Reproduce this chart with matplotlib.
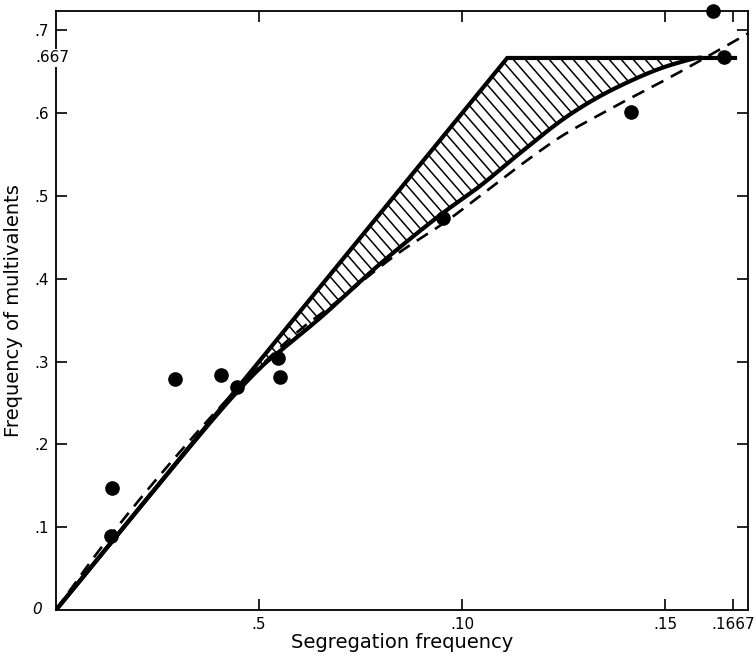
import numpy as np
import matplotlib
matplotlib.use("Agg")
import matplotlib.pyplot as plt
from matplotlib.patches import Polygon

# ---- data ----
obs_x = [0.0137, 0.01355, 0.0293, 0.0406, 0.0445, 0.0546, 0.0552, 0.0952, 0.1415, 0.1617, 0.1644]
obs_y = [0.1477, 0.0897, 0.2786, 0.2840, 0.2697, 0.3047, 0.2818, 0.4730, 0.6020, 0.7234, 0.6680]

upper_x = [0.0, 1/9, 0.1672]
upper_y = [0.0, 2/3, 2/3]

lower_x = [0.0, 0.02, 0.04, 0.05, 0.056, 0.0658, 0.0798, 0.0938, 0.1044, 0.1143,
           0.1241, 0.1323, 0.1406, 0.1488, 0.1562, 0.1585]
lower_y = [0.0, 0.120, 0.238, 0.291, 0.316, 0.356, 0.418, 0.474, 0.512, 0.552,
           0.590, 0.616, 0.637, 0.654, 0.665, 0.667]

dash_x = [0.0, 0.01, 0.02, 0.03, 0.04, 0.05, 0.06, 0.0675, 0.0831, 0.0954, 0.1044, 0.1143,
          0.1241, 0.1323, 0.1406, 0.1488, 0.157, 0.1705]
dash_y = [0.0, 0.068, 0.130, 0.188, 0.243, 0.293, 0.338, 0.366, 0.4267, 0.467, 0.500, 0.537,
          0.571, 0.594, 0.616, 0.637, 0.659, 0.6965]

xtick_vals = [0.05, 0.10, 0.15, 0.1667]
xtick_labels = [".5", ".10", ".15", ".1667"]
ytick_vals = [0.1, 0.2, 0.3, 0.4, 0.5, 0.6, 0.7]
ytick_labels = [".1", ".2", ".3", ".4", ".5", ".6", ".7"]


def smooth(xs, ys, n=20):
    """Catmull-Rom rendering of a hand-read curve (drawing only)."""
    p = np.column_stack([xs, ys]).astype(float)
    p = np.vstack([2 * p[0] - p[1], p, 2 * p[-1] - p[-2]])
    out = []
    t = np.linspace(0, 1, n, endpoint=False)[:, None]
    for i in range(1, len(p) - 2):
        p0, p1, p2, p3 = p[i - 1], p[i], p[i + 1], p[i + 2]
        seg = 0.5 * ((2 * p1) + (-p0 + p2) * t + (2 * p0 - 5 * p1 + 4 * p2 - p3) * t ** 2
                     + (-p0 + 3 * p1 - 3 * p2 + p3) * t ** 3)
        out.append(seg)
    out.append(p[-2][None, :])
    out = np.vstack(out)
    return out[:, 0], out[:, 1]


plt.rcParams['font.family'] = ['DejaVu Sans']

W, H = 756, 657
fig = plt.figure(figsize=(W/100, H/100), dpi=100)
ax = fig.add_axes([56/W, 47/H, 692/W, 599/H])
ax.set_xlim(0, 0.1704)
ax.set_ylim(0, 0.7234)

lsx, lsy = smooth(lower_x, lower_y)
dsx, dsy = smooth(dash_x, dash_y)

# hatched region between upper boundary and lower solid curve
uy = np.interp(lsx, upper_x, upper_y)
poly_pts = np.vstack([np.column_stack([lsx, uy]), np.column_stack([lsx[::-1], lsy[::-1]])])
poly = Polygon(poly_pts, closed=True, facecolor='none', edgecolor='none')
ax.add_patch(poly)
sx = 692/0.1704
sy = 599/0.7234
slope = -1.15 * sx / sy
step = 12 / sx
for c in np.arange(0.0, 0.35, step):
    xs = np.array([0.0, 0.18])
    ys = slope * (xs - c)
    ln, = ax.plot(xs, ys, color='black', lw=1.1, solid_capstyle='butt')
    ln.set_clip_path(poly)

ax.plot(upper_x, upper_y, color='black', lw=3.0, solid_joinstyle='miter')
ax.plot(lsx, lsy, color='black', lw=3.0)
ax.plot(dsx, dsy, color='black', lw=1.9, dashes=(5, 3.2), clip_on=False)
ax.plot(obs_x, obs_y, 'o', color='black', ms=9.5, clip_on=False, zorder=5)

for s in ax.spines.values():
    s.set_linewidth(1.3)

ax.set_xticks(xtick_vals)
ax.set_xticklabels(xtick_labels)
ax.set_yticks(ytick_vals)
ax.set_yticklabels(ytick_labels)
ax.tick_params(direction='in', length=8, width=1.2, top=True, right=True,
               labelsize=11, pad=5)

# special labels
ax.text(-0.0035, 0.0, "0", ha='right', va='center', fontsize=11, style='italic',
        clip_on=False)
ax.text(-0.0010, 2/3, ".667", ha='center', va='center', fontsize=11,
        bbox=dict(facecolor='white', edgecolor='none', pad=1.0), clip_on=False, zorder=10)

ax.set_xlabel("Segregation frequency", fontsize=14, labelpad=1)
ax.set_ylabel("Frequency of multivalents", fontsize=14, labelpad=8)

fig.savefig("out.png", dpi=100)
